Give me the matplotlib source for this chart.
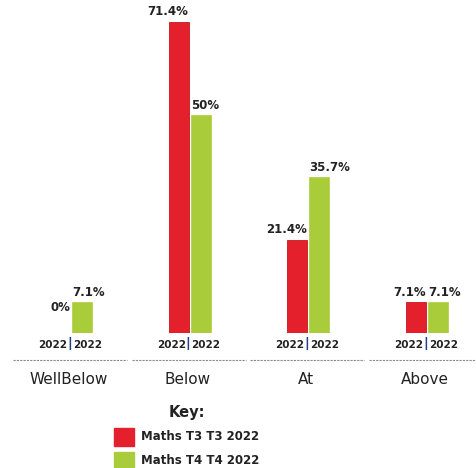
import matplotlib.pyplot as plt
from matplotlib.patches import Rectangle

categories = ["WellBelow", "Below", "At", "Above"]
t3_values = [0, 71.4, 21.4, 7.1]
t4_values = [7.1, 50, 35.7, 7.1]
t3_labels = ["0%", "71.4%", "21.4%", "7.1%"]
t4_labels = ["7.1%", "50%", "35.7%", "7.1%"]
year_label = "2022"
series_names = ["Maths T3 T3 2022", "Maths T4 T4 2022"]

red = "#e3202b"
green = "#a9cd3a"
text_col = "#222222"

W, H = 477, 468
fig = plt.figure(figsize=(W / 100, H / 100), dpi=100)

# bar area: baseline at 333 px from top
base_px = 333
ax = fig.add_axes([0, (H - base_px) / H, 1, base_px / H])
spacing = 118.6
first = 71
ax.set_xlim(-first / spacing, (W - first) / spacing)
ax.set_ylim(0, base_px / 4.356)
ax.axis("off")

bw = 0.168
gap = 0.009
xs = list(range(len(categories)))
for i, x in enumerate(xs):
    xr = x - bw / 2 - gap
    xg = x + bw / 2 + gap
    ax.bar(xr, t3_values[i], width=bw, color=red, edgecolor="#c8141e", linewidth=0.6)
    ax.bar(xg, t4_values[i], width=bw, color=green, edgecolor="#b8d04a", linewidth=0.6)
    # red labels end at the bar's right edge, green ones start at its left edge
    ax.text(xr + bw / 2, max(t3_values[i], 3.5) + 0.8, t3_labels[i], ha="right",
            va="bottom", fontsize=8.5, fontweight="bold", color=text_col)
    ax.text(xg - bw / 2, max(t4_values[i], 3.5) + 0.8, t4_labels[i], ha="left",
            va="bottom", fontsize=8.5, fontweight="bold", color=text_col)

# year labels, dashed separators and category names under the bars
for i, x in enumerate(xs):
    cx = (first + spacing * x) / W
    fig.text(cx - 0.008, 1 - 345 / H, year_label, ha="right", va="center",
             fontsize=7.5, fontweight="bold", color=text_col)
    fig.text(cx - 0.003, 1 - 344 / H, "|", ha="center", va="center",
             fontsize=9.5, fontweight="bold", color="#1f3f8f")
    fig.text(cx + 0.004, 1 - 345 / H, year_label, ha="left", va="center",
             fontsize=7.5, fontweight="bold", color=text_col)
    x0 = cx - 58 / W
    x1 = cx + 56 / W
    fig.add_artist(plt.Line2D([x0, x1], [1 - 360 / H] * 2, color="#8a8a8a",
                              linewidth=0.8, linestyle=(0, (2, 1))))
    fig.text(cx - 2 / W, 1 - 380 / H, categories[i], ha="center", va="center",
             fontsize=11, color=text_col)

# key
fig.text(187 / W, 1 - 413 / H, "Key:", ha="center", va="center",
         fontsize=10.5, fontweight="bold", color=text_col)
for j, (name, col) in enumerate(zip(series_names, [red, green])):
    y = 437 + j * 24
    fig.add_artist(Rectangle((114 / W, 1 - (y + 9) / H), 20 / W, 18 / H,
                             transform=fig.transFigure, color=col))
    fig.text(141 / W, 1 - y / H, name, ha="left", va="center",
             fontsize=8.5, fontweight="bold", color=text_col)

fig.savefig("out.png", dpi=100)
